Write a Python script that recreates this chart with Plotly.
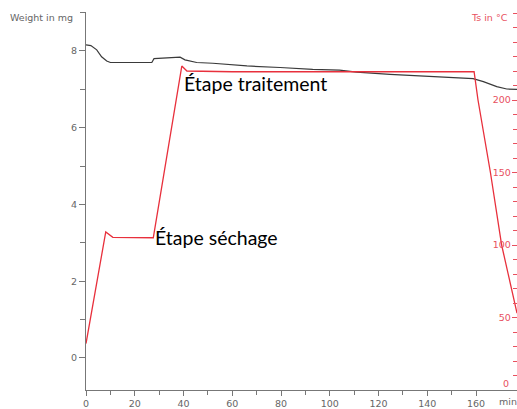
import plotly.graph_objects as go

# Temperature (red, right axis)
temp_time = [0, 8.1, 11.0, 20.0, 27.6, 39.3, 41.4, 60, 100, 140, 159.2, 160.8, 165.9, 170.5, 176.8]
temp_vals = [32, 109, 105.3, 105, 105, 223.4, 220, 219.5, 219.5, 219.5, 219.5, 200, 150, 100, 53]

# Weight (dark gray, left axis)
w_time = [0, 2.0, 4.4, 6.4, 8.5, 10.0, 20.0, 27.0, 27.9, 33.0, 38.6, 40.6, 45.4, 52, 66, 79.6, 93, 104, 111, 124.7, 141, 158.8, 163, 168.5, 172.6, 176.8]
w_vals = [8.16, 8.14, 8.03, 7.85, 7.74, 7.70, 7.70, 7.70, 7.80, 7.82, 7.84, 7.77, 7.70, 7.68, 7.61, 7.57, 7.52, 7.50, 7.45, 7.39, 7.34, 7.28, 7.20, 7.07, 7.01, 7.0]

x_ticks = [0, 20, 40, 60, 80, 100, 120, 140, 160]
w_ticks = [0, 2, 4, 6, 8]
t_ticks = [0, 50, 100, 150, 200]

GRAY = "#666666"
RED = "#e8505e"

fig = go.Figure()
fig.add_trace(go.Scatter(x=w_time, y=w_vals, mode="lines",
                         line=dict(color="#3a3a3a", width=1.2), yaxis="y", showlegend=False))
fig.add_trace(go.Scatter(x=temp_time, y=temp_vals, mode="lines",
                         line=dict(color="#e8303c", width=1.3), yaxis="y2", showlegend=False))

axfont = dict(family="DejaVu Sans", size=9.5, color=GRAY)
redfont = dict(family="DejaVu Sans", size=9.5, color=RED)

fig.update_layout(
    width=517, height=409,
    margin=dict(l=86, r=0, t=12, b=19),
    paper_bgcolor="white", plot_bgcolor="white",
    xaxis=dict(range=[0, 176.8], tickvals=x_ticks, showgrid=False, zeroline=False,
               showline=True, linecolor="#777777", linewidth=1,
               ticks="outside", ticklen=5, tickcolor="#777777",
               minor=dict(tickvals=list(range(0, 177, 10)), ticks="outside", ticklen=4, tickcolor="#777777"),
               tickfont=axfont),
    yaxis=dict(range=[-0.834, 9.016], tickvals=w_ticks, showgrid=False, zeroline=False,
               showline=True, linecolor="#777777", linewidth=1,
               ticks="outside", ticklen=6, tickcolor="#777777",
               minor=dict(tickvals=list(range(-1, 10)), ticks="outside", ticklen=5, tickcolor="#777777"),
               tickfont=axfont),
    yaxis2=dict(range=[0, 260.7], overlaying="y", side="right", tickvals=t_ticks,
                showgrid=False, zeroline=False, showline=False,
                ticks="inside", ticklen=5, tickcolor=RED, ticklabelposition="inside",
                minor=dict(tickvals=list(range(0, 261, 10)), ticks="inside", ticklen=4, tickcolor=RED),
                tickfont=redfont),
    annotations=[
        dict(text="Weight in mg", xref="paper", yref="paper", x=0, y=1.0, xanchor="left",
             yanchor="bottom", showarrow=False, font=axfont, xshift=-78, yshift=-13),
        dict(text="Ts in °C", xref="paper", yref="paper", x=1.0, y=1.0, xanchor="right",
             yanchor="bottom", showarrow=False, font=redfont, xshift=-7, yshift=-13),
        dict(text="0", xref="paper", yref="paper", x=1.0, y=0, xanchor="right", yanchor="bottom",
             showarrow=False, font=redfont, xshift=-6, yshift=-1),
        dict(text="min", xref="paper", yref="paper", x=1.0, y=0, xanchor="right", yanchor="top",
             showarrow=False, font=axfont, xshift=2, yshift=-4),
        dict(text="Étape traitement", xref="x", yref="y2", x=39.4, y=211.7, xanchor="left",
             yanchor="middle", showarrow=False, font=dict(family="Lato", size=19.5, color="black")),
        dict(text="Étape séchage", xref="x", yref="y2", x=27.6, y=105, xanchor="left",
             yanchor="middle", showarrow=False, font=dict(family="Lato", size=19.5, color="black")),
    ],
)

fig.write_html("out.html", config={"displayModeBar": False},
               post_script="document.body.style.margin='0';document.body.style.overflow='hidden';")
